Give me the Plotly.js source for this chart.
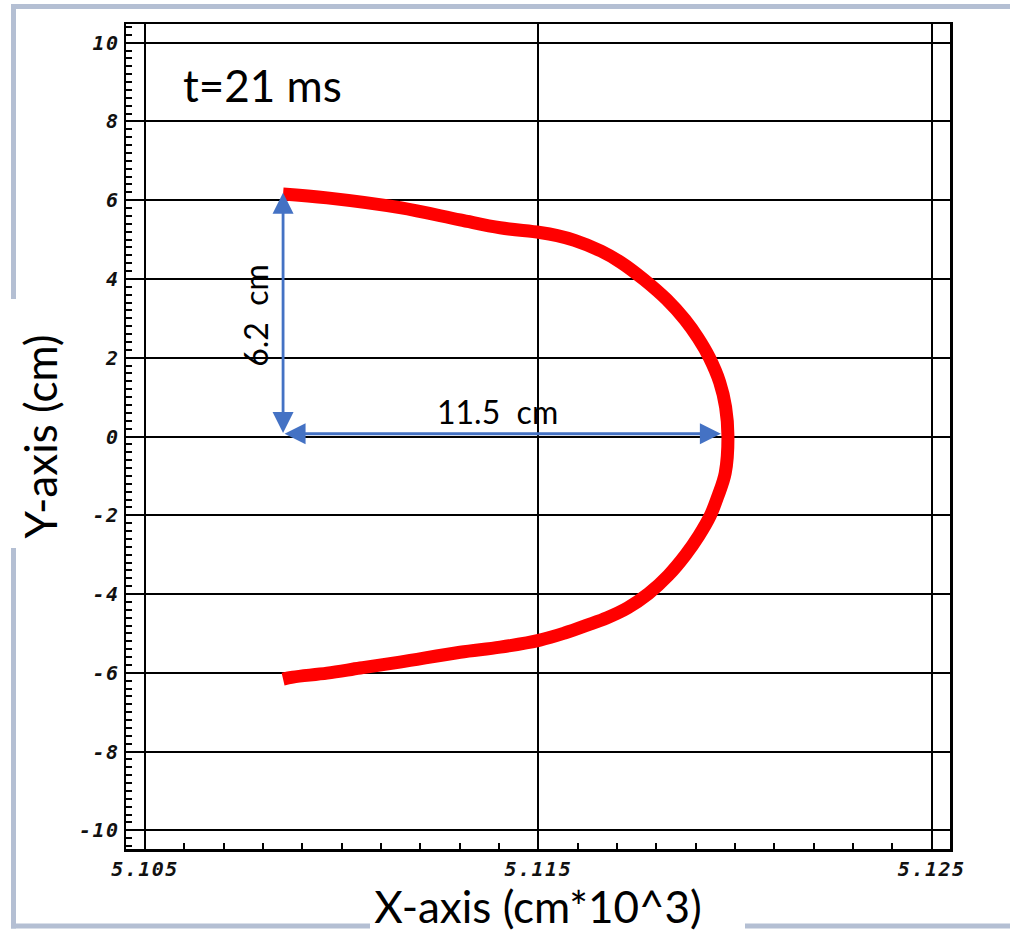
<!DOCTYPE html>
<html>
<head>
<meta charset="utf-8">
<script src="https://cdn.plot.ly/plotly-3.0.1.min.js"></script>
<style>
  html, body { margin: 0; padding: 0; background: #ffffff; }
  #chart { width: 1010px; height: 934px; }
  .xtick text, .ytick text { letter-spacing: 1.5px; }
</style>
</head>
<body>
<div id="chart"></div>
<script>
// ---- data ----
// Flame front (x in cm*10^3, y in cm), traced from top end to bottom end
const curveX = [5.10851, 5.10963, 5.11148, 5.11301, 5.11403, 5.11504, 5.11548, 5.11592, 5.11659, 5.11710,
                5.11769, 5.11826, 5.11873, 5.11906, 5.11935, 5.11961, 5.11976, 5.11982,
                5.11975, 5.11957, 5.11937, 5.11908, 5.11874, 5.11831, 5.11780, 5.11727,
                5.11675, 5.11624, 5.11567, 5.11504, 5.11403, 5.11301,
                5.11148, 5.11047, 5.10963, 5.10876, 5.10851];
const curveY = [6.16, 6.06, 5.81, 5.50, 5.30, 5.18, 5.10, 4.98, 4.71, 4.42,
                3.98, 3.48, 2.96, 2.50, 2.00, 1.38, 0.75, 0.00,
                -0.93, -1.50, -2.01, -2.52, -3.01, -3.52, -3.99, -4.35,
                -4.60, -4.79, -4.99, -5.17, -5.35, -5.48,
                -5.73, -5.88, -6.01, -6.11, -6.16];

// axis ticks
const xTickVals = [5.105, 5.115, 5.125];
const xTickText = ["5.105", "5.115", "5.125"];
const yTickVals = [-10, -8, -6, -4, -2, 0, 2, 4, 6, 8, 10];
const yTickText = ["-10", "-8", "-6", "-4", "-2", "0", "2", "4", "6", "8", "10"];

// measurement annotations
const timeLabel = "t=21 ms";
const heightLabel = "6.2  cm";
const widthLabel = "11.5  cm";
const heightArrow = {x: 5.10851, y0: 0.05, y1: 6.19};
const widthArrow = {x0: 5.10851, x1: 5.11964, y: 0.07};

// ---- chart ----
const W = 1010, H = 934;
const M = {l: 126, r: 60, t: 24, b: 85};
const PW = W - M.l - M.r, PH = H - M.t - M.b;
const px = v => (v - M.l) / PW;          // pixel x -> paper x
const py = v => (H - M.b - v) / PH;      // pixel y -> paper y

const frameColor = "#b4bfd3";
function seg(x0, y0, x1, y1) {
  return {type: "line", xref: "paper", yref: "paper", layer: "above",
          x0: px(x0), y0: py(y0), x1: px(x1), y1: py(y1),
          line: {color: frameColor, width: 5}};
}

const trace = {
  type: "scatter",
  mode: "lines",
  x: curveX,
  y: curveY,
  line: {color: "#ff0000", width: 13, shape: "spline", smoothing: 1},
  hoverinfo: "skip"
};

const tickFont = {family: "DejaVu Sans Mono", size: 20, color: "#111111", weight: "bold", style: "italic"};
const titleFont = {family: "Lato", size: 44, color: "#000000"};
const arrowBlue = "#4472c4";

const layout = {
  width: W, height: H,
  margin: {l: M.l, r: M.r, t: M.t, b: M.b, pad: 0},
  paper_bgcolor: "#ffffff",
  plot_bgcolor: "#ffffff",
  showlegend: false,
  xaxis: {
    range: [5.104517, 5.125465],
    tickmode: "array", tickvals: xTickVals, ticktext: xTickText,
    ticks: "inside", ticklen: 6, tickwidth: 2, tickcolor: "#000000",
    minor: {dtick: 0.001, tick0: 5.105, ticks: "inside", ticklen: 6, tickwidth: 2, tickcolor: "#000000", showgrid: false},
    showgrid: true, gridcolor: "#000000", gridwidth: 2,
    showline: true, linecolor: "#000000", linewidth: 2.5, mirror: true,
    zeroline: false,
    tickfont: tickFont,
    title: {text: "X-axis (cm*10^3)", font: titleFont, standoff: 12}
  },
  yaxis: {
    range: [-10.475, 10.475],
    tickmode: "array", tickvals: yTickVals, ticktext: yTickText,
    ticks: "inside", ticklen: 6, tickwidth: 2, tickcolor: "#000000",
    minor: {dtick: 0.2, tick0: 0, ticks: "inside", ticklen: 6, tickwidth: 2, tickcolor: "#000000", showgrid: false},
    showgrid: true, gridcolor: "#000000", gridwidth: 2,
    showline: true, linecolor: "#000000", linewidth: 2.5, mirror: true,
    zeroline: false,
    tickfont: tickFont,
    title: {text: "Y-axis (cm)", font: titleFont, standoff: 8}
  },
  shapes: [
    seg(11, 6.5, 1010, 6.5),
    seg(13.5, 4, 13.5, 299),
    seg(13.5, 548, 13.5, 928.5),
    seg(11, 926, 370, 926),
    seg(745, 926, 1010, 926)
  ],
  annotations: [
    {x: 5.10798, y: 8.92, xref: "x", yref: "y", text: timeLabel, showarrow: false,
     font: {family: "Lato", size: 44, color: "#000000"}, xanchor: "center", yanchor: "middle"},
    {x: 5.10780, y: 3.07, xref: "x", yref: "y", text: heightLabel, showarrow: false, textangle: -90,
     font: {family: "Lato", size: 32, color: "#000000"}, xanchor: "center", yanchor: "middle"},
    {x: 5.11395, y: 0.63, xref: "x", yref: "y", text: widthLabel, showarrow: false,
     font: {family: "Lato", size: 32, color: "#000000"}, xanchor: "center", yanchor: "middle"},
    // vertical double arrow
    {x: heightArrow.x, y: heightArrow.y1, ax: heightArrow.x, ay: heightArrow.y0,
     xref: "x", yref: "y", axref: "x", ayref: "y", text: "", showarrow: true,
     arrowside: "end+start", arrowhead: 2, startarrowhead: 2, arrowsize: 1.5, startarrowsize: 1.5,
     arrowwidth: 2.8, arrowcolor: arrowBlue, standoff: 0, startstandoff: 0},
    // horizontal double arrow
    {x: widthArrow.x1, y: widthArrow.y, ax: widthArrow.x0, ay: widthArrow.y,
     xref: "x", yref: "y", axref: "x", ayref: "y", text: "", showarrow: true,
     arrowside: "end+start", arrowhead: 2, startarrowhead: 2, arrowsize: 1.5, startarrowsize: 1.5,
     arrowwidth: 2.8, arrowcolor: arrowBlue, standoff: 0, startstandoff: 0}
  ]
};

Plotly.newPlot("chart", [trace], layout, {displayModeBar: false, staticPlot: true});
</script>
</body>
</html>
